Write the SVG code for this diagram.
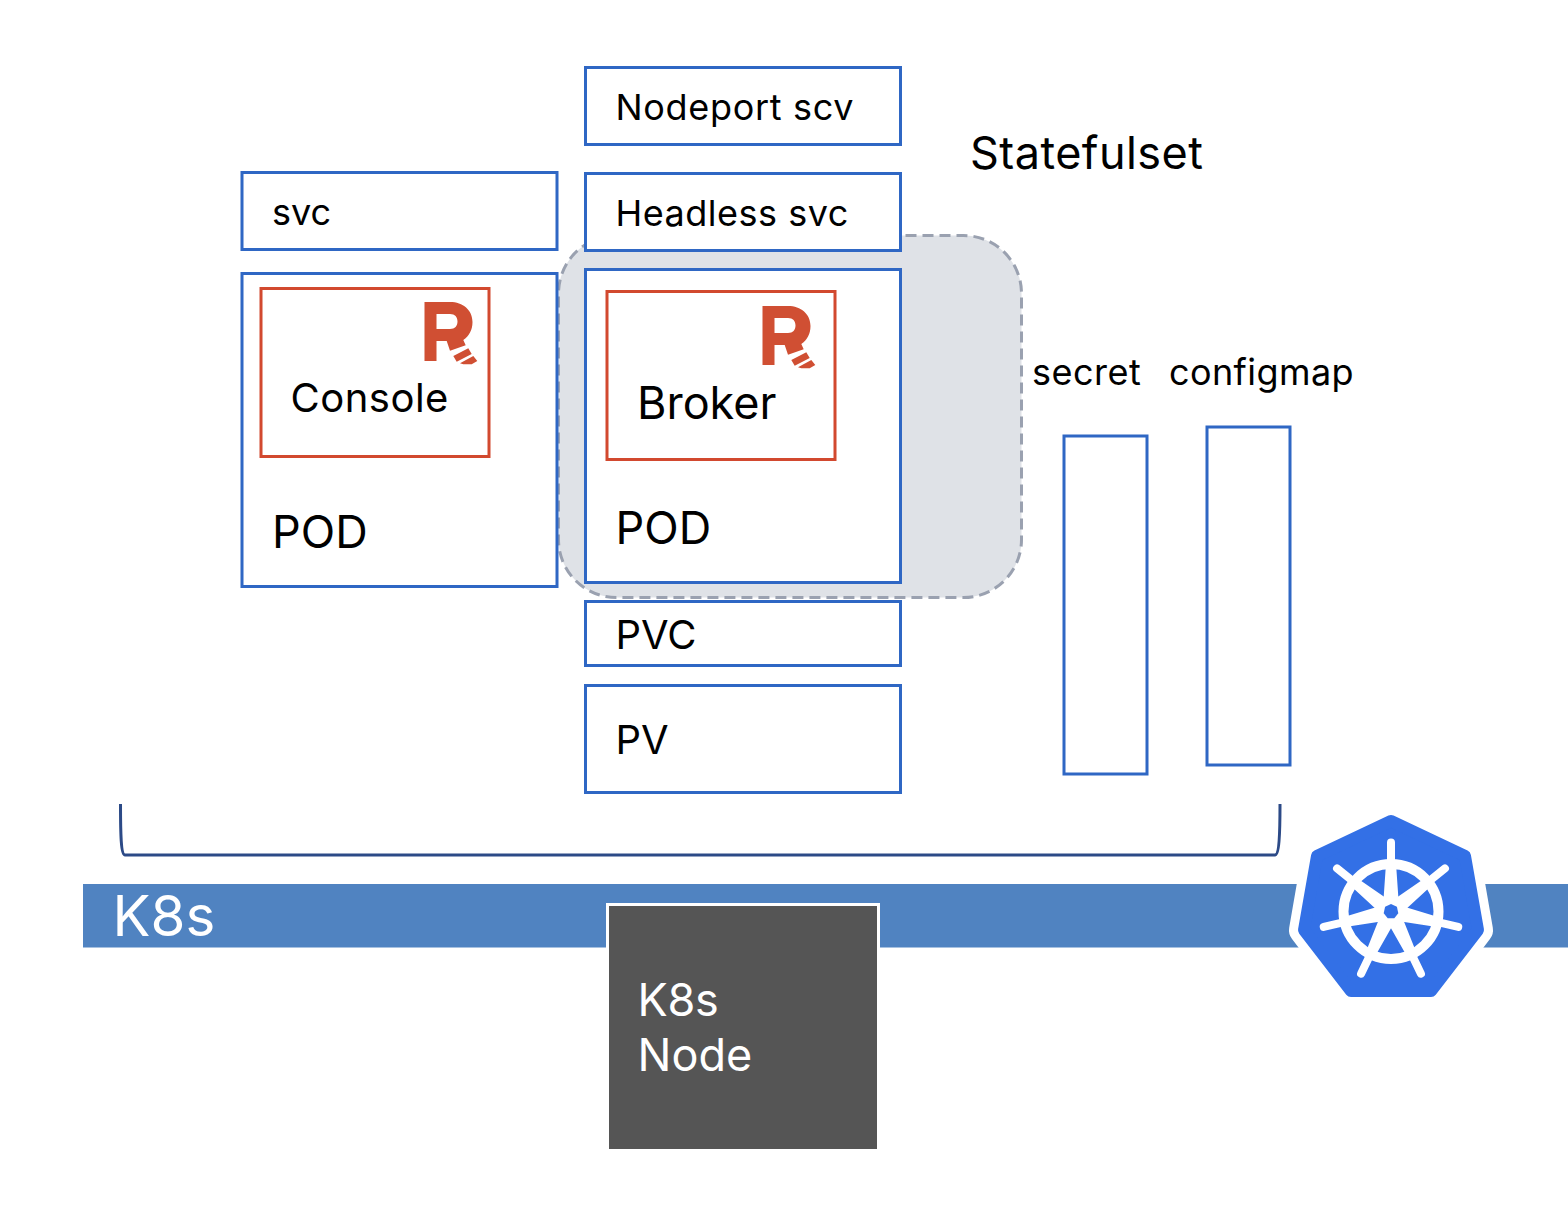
<svg xmlns="http://www.w3.org/2000/svg" width="1568" height="1206" viewBox="0 0 1568 1206">
<style>
text{font-family:Inter,"Liberation Sans",sans-serif;fill:#000}
.b{fill:#fff;stroke:#2f67c4;stroke-width:3}
.r{fill:#fff;stroke:#d2492f;stroke-width:3}
.logo{fill:#d04f33}
.sp{fill:#fff}
.ls{letter-spacing:.5px}
</style>
<defs>
<g id="rlogo">
<path class="logo" fill-rule="evenodd" d="M0.500 0H26C39 0 48.500 8 48.500 20C48.500 28 45 34 39.300 38L41.700 43.300L26 48.700L22.700 39H12.500V59H0.500ZM12.500 12V27H26C31 27 33.500 24 33.500 19.500C33.500 15 31 12 26 12Z"/>
<path class="logo" d="M29.300 54L44.300 46.300L47.700 52L32.700 59.700ZM36 61.300L49.300 54L53.300 59L47.700 62.300H39.300Z"/>
</g>
<path id="spoke" class="sp" d="M-7.500 -12L-5 -48H-4L-4 -69A4 4 0 0 1 4 -69L4 -48H5L7.500 -12Z"/>
</defs>
<rect width="1568" height="1206" fill="#fff"/>
<g id="statefulset"><rect x="558.500" y="235.500" width="463" height="362" rx="58" fill="#dfe2e7" stroke="#9aa1b0" stroke-width="3" stroke-dasharray="11 6"/><text x="970" y="169" font-size="45" letter-spacing=".45">Statefulset</text></g>
<g id="nodeport"><rect class="b" x="585.500" y="67.500" width="315" height="77"/><text x="615.500" y="119.500" font-size="36" letter-spacing=".68">Nodeport scv</text></g>
<g id="svc"><rect class="b" x="242" y="172.500" width="315" height="77"/><text x="272" y="225" font-size="36">svc</text></g>
<g id="headless"><rect class="b" x="585.500" y="173.500" width="315" height="77"/><text class="ls" x="615.500" y="225.500" font-size="36">Headless svc</text></g>
<g id="console-pod"><rect class="b" x="242" y="273.500" width="315" height="313"/><rect class="r" x="261" y="288.500" width="228" height="168"/><use href="#rlogo" transform="translate(424 302)"/><text class="ls" x="290.500" y="412" font-size="40">Console</text><text x="272" y="548" font-size="45">POD</text></g>
<g id="broker-pod"><rect class="b" x="585.500" y="269.500" width="315" height="313"/><rect class="r" x="607" y="291.500" width="228" height="168"/><use href="#rlogo" transform="translate(762 306)"/><text x="637" y="419" font-size="45">Broker</text><text x="615.500" y="544" font-size="45">POD</text></g>
<g id="pvc"><rect class="b" x="585.500" y="601.500" width="315" height="64"/><text x="615.500" y="649" font-size="40">PVC</text></g>
<g id="pv"><rect class="b" x="585.500" y="685.500" width="315" height="107"/><text x="615.500" y="754" font-size="40">PV</text></g>
<g id="secret"><text class="ls" x="1032" y="385" font-size="36">secret</text><rect class="b" x="1064" y="436" width="83" height="338"/></g>
<g id="configmap"><text x="1169" y="385" font-size="36" letter-spacing=".4">configmap</text><rect class="b" x="1207" y="427" width="83" height="338"/></g>
<g id="connectors"><path d="M120.500 804C120.500 835 121 855 125 855H1275C1279 855 1280 835 1280 804" fill="none" stroke="#2c4a87" stroke-width="3"/></g>
<g id="k8s-bar"><rect x="83" y="884" width="1485" height="63.500" fill="#5083c1"/><text x="112.500" y="936" font-size="56.500" style="fill:#fff">K8s</text></g>
<g id="k8s-node"><rect x="607.500" y="904.500" width="271" height="246" fill="#555" stroke="#fff" stroke-width="3"/><text x="637.500" y="1016" font-size="45" style="fill:#fff" letter-spacing="-.3">K8s</text><text x="637.500" y="1071" font-size="45" style="fill:#fff">Node</text></g>
<g id="k8s-logo">
<path d="M1391 818L1465 855L1478 930L1431 992H1351L1304 930L1317 855Z" fill="#fff" stroke="#fff" stroke-width="30" stroke-linejoin="round"/>
<path d="M1391 821L1465 856L1478 930L1431 991H1351L1304 930L1317 856Z" fill="#3370e6" stroke="#3370e6" stroke-width="12" stroke-linejoin="round"/>
<circle cx="1391" cy="911.500" r="47.500" fill="none" stroke="#fff" stroke-width="10"/>
<g transform="translate(1391 911.500)">
<use href="#spoke"/><use href="#spoke" transform="rotate(51.430)"/><use href="#spoke" transform="rotate(102.860)"/><use href="#spoke" transform="rotate(154.290)"/><use href="#spoke" transform="rotate(205.710)"/><use href="#spoke" transform="rotate(257.140)"/><use href="#spoke" transform="rotate(308.570)"/>
<circle r="14" fill="#fff"/>
<path d="M0 -7.500L5.900 -4.700L7.300 1.700L3.300 6.800H-3.300L-7.300 1.700L-5.900 -4.700Z" fill="#3370e6"/>
</g>
</g>
</svg>
